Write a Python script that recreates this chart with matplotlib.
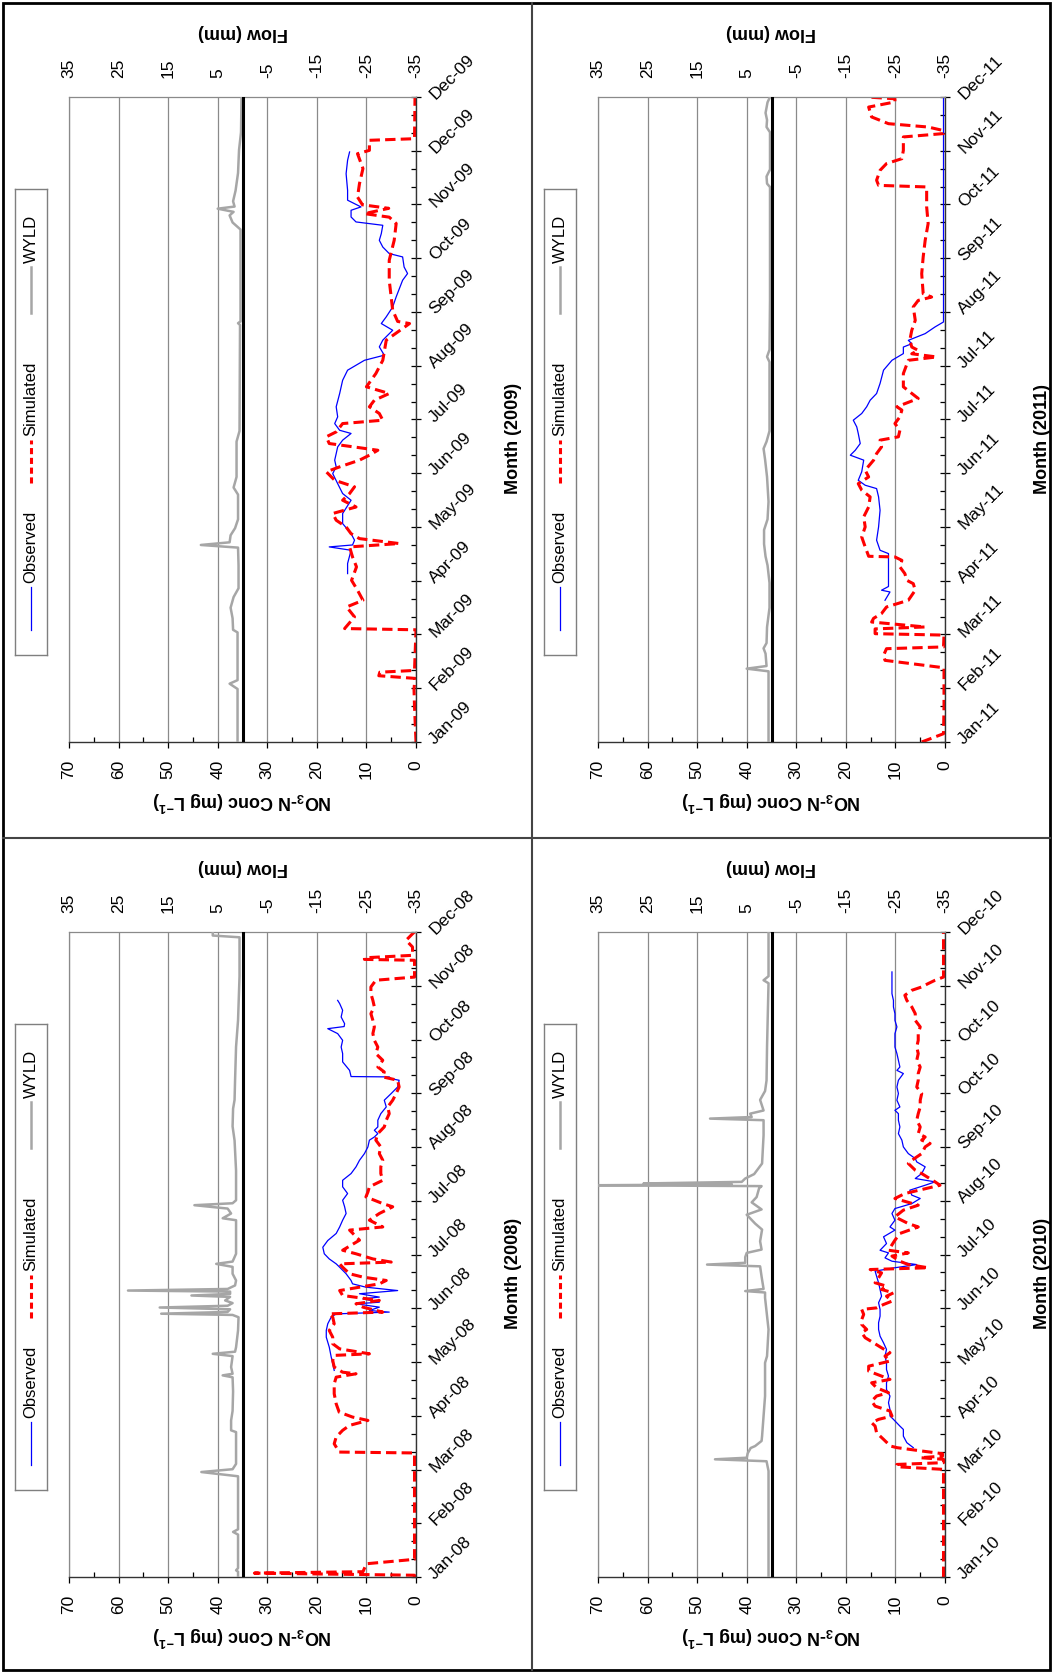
import numpy as np
import matplotlib
matplotlib.use('Agg')
import matplotlib.pyplot as plt
from matplotlib.lines import Line2D
from matplotlib.patches import Rectangle
from matplotlib.ticker import FixedLocator, MultipleLocator

plt.rcParams['font.family'] = 'Liberation Sans'
plt.rcParams['axes.unicode_minus'] = False
plt.rcParams['mathtext.fontset'] = 'custom'
plt.rcParams['mathtext.rm'] = 'Liberation Sans'
plt.rcParams['mathtext.bf'] = 'Liberation Sans:bold'

# (day of year, value) pairs; conc in mg/L, WYLD in mm
obs08 = [(116.9,16.5),(120.7,16.8),(124.4,17.1),(130.1,17.5),(135.7,18.1),(139.5,18.1),(143.3,17.8),(147.1,17.1),
         (148.9,16.1),(149.9,5.4),(150.8,9.4),(152.7,7.4),(154.6,12.1),(155.5,7.4),(157.4,10.7),(158.4,7.4),
         (160.3,11.4),(162.1,3.7),(164,10.1),(165.9,12.8),(167.8,13.1),(171.6,14.1),(175.3,15.4),(177.2,16.1),
         (180,17.5),(182.9,18.5),(186.6,18.8),(190.4,17.8),(194.4,16.1),(198.1,15.4),(201.9,14.8),(205.7,14.1),
         (209.5,14.4),(213.2,14.8),(217,13.8),(220.8,14.8),(224.5,14.8),(228.3,13.1),(232.1,12.1),(235.8,11.4),
         (239.6,10.4),(243.4,9.7),(247.2,9.4),(249,8.4),(250.9,7.7),(252.8,8.4),(254.7,7.7),(258.5,7.7),
         (262.2,7.1),(266,6.0),(269.8,6.4),(273.6,5.0),(277.3,3.7),(281.1,3.4),(282,5.0),(283,5.4),(283.2,13.1),
         (286.7,13.4),(291.5,14.8),(296.2,14.8),(299.9,15.1),(303.7,14.8),(307.5,15.8),(310.3,17.8),(311.5,14.5),
         (313.1,14.4),(316.9,15.1),(320.7,14.8),(324.5,15.4),(326.3,15.8)]
sim08 = [(0,0.3),(1.0,0.3),(2.2,32.6),(3.0,10.7),(7.5,10.0),(10.0,0.3),(70.2,0.3),(70.7,15.5),(75.4,16.5),
         (79.2,16.1),(83,14.8),(85.8,13.4),(88.6,9.7),(90.5,12.8),(93.3,15.5),(98,16.1),(103.7,16.5),(109.3,16.5),
         (113.1,16.1),(115,12.1),(115.9,14.8),(118.8,16.5),(122.5,16.8),(125.4,16.5),(126.3,9.4),(129.1,15.4),
         (132,16.8),(135.7,16.8),(139.5,17.5),(143.3,16.5),(147.1,16.8),(148.9,17.5),(149.9,6.7),(152.7,10.7),
         (154.6,12.1),(156.5,7.4),(159.3,14.8),(162.1,15.4),(164,11.4),(165.9,7.4),(167.8,6.0),(169.7,10.7),
         (171.6,13.4),(175.3,14.8),(177.2,15.4),(178.2,5.0),(180,8.7),(182.9,12.1),(184.9,14.8),(190.6,11.4),
         (196.3,13.4),(198.1,6.7),(201.9,9.4),(205.7,7.4),(209.5,4.7),(211.3,6.7),(215.1,10.1),(217.9,9.7),
         (220.8,9.4),(224.5,6.7),(228.3,7.1),(232.1,7.1),(235.8,6.7),(239.6,7.4),(243.4,7.1),(247.2,8.1),
         (250.9,7.7),(254.7,6.4),(258.5,6.0),(262.2,5.4),(266,5.7),(269.8,4.7),(273.6,4.0),(277.3,3.4),(281.1,3.7),
         (283,6.7),(285.8,6.4),(288.6,7.7),(292.4,6.7),(296.2,8.1),(299.9,7.7),(303.7,8.4),(307.5,8.7),(311.3,8.4),
         (315,8.7),(318.8,9.1),(322.6,8.4),(326.3,8.7),(330.1,9.1),(333.9,9.1),(337.7,8.1),(339.5,0.3),(349,0.3),
         (349.5,10.4),(350.4,10.4),(351.8,0.7),(356.5,0.7),(360.3,2.0),(364,0.7),(365,0.3)]
wyld08 = [(0,0.9),(3,0.9),(3.8,1.3),(5,0.9),(24,0.9),(25.5,1.9),(27,0.9),(57,0.9),(59.4,8.3),(61,2.0),(64,1.3),
          (75,1.3),(82,1.3),(83,2.3),(88.6,2.3),(94,2.0),(105,1.9),(113,2.0),(114.1,4.0),(115,2.0),(118.8,2.3),
          (125,2.0),(126.3,6.0),(127.5,1.5),(130,1.3),(139.5,0.9),(147,0.8),(148.3,2.0),(149,16.4),(150,3.0),
          (151.5,2.5),(152.5,16.7),(153.5,3.0),(155,2.0),(156.5,3.5),(158.5,2.5),(159.3,10.3),(160.2,2.5),
          (161.5,2.5),(162.1,23.1),(163,3.0),(165,1.5),(167.8,1.3),(171.6,2.0),(175.5,2.0),(177.2,5.3),(178.5,2.0),
          (182.9,1.3),(190,1.3),(201.9,1.3),(203,4.0),(205.7,2.3),(208.5,3.0),(210.4,9.7),(211.5,2.0),(213.2,1.3),
          (230,1.3),(247,1.6),(255,2.0),(265,1.9),(270,1.6),(281,1.5),(300,1.3),(315,0.9),(340,0.6),(362,0.6),
          (363,6.0),(365,6.0)]

obs09 = [(95.3,13.8),(101,13.8),(108.5,13.1),(110.4,17.5),(111.5,12.8),(114.2,12.4),(117.9,13.1),(123.6,14.8),
         (129.3,14.8),(136.8,13.1),(140.6,14.8),(146.2,15.8),(151.9,16.8),(155.7,16.1),(159.5,16.4),(163.2,16.1),
         (167,15.8),(170.8,14.8),(174.6,13.1),(176.4,15.4),(180.2,16.4),(184,15.8),(189.7,16.1),(197.2,15.4),
         (204.7,14.8),(210.4,13.8),(216,10.4),(218.9,6.4),(223.6,7.4),(227.4,6.7),(233,4.7),(236.8,7.0),
         (240.6,6.0),(246.2,4.7),(251.9,4.0),(261.3,2.7),(265.1,1.7),(268.8,2.4),(274.5,2.7),(276.4,5.4),
         (280.1,6.7),(283.9,7.4),(287.7,7.0),(292.4,6.7),(294.3,12.1),(297.1,13.1),(300.9,13.1),(302.8,11.1),
         (306.6,13.8),(312.2,13.8),(321.6,14.1),(329.2,13.8),(333.9,13.4)]
sim09 = [(0,0.0),(20,0.3),(30,0.4),(36,0.2),(37.5,7.5),(39.5,7.3),(40.5,0.3),(63.5,0.0),(64.2,14.4),(70.8,12.4),
         (76.4,14.0),(80.2,10.7),(85.9,11.8),(91.5,13.0),(99.1,12.0),(104.7,12.8),(110.4,13.4),(112.3,3.4),
         (115.1,11.4),(117.9,13.1),(121.7,14.1),(125.5,16.1),(129.3,16.8),(133.0,12.1),(136.8,14.8),(140.6,13.4),
         (144.4,12.4),(148.1,16.4),(152.9,18.1),(155.7,15.4),(159.5,11.4),(162.3,9.4),(165.1,7.7),(168.9,17.5),
         (172.7,18.1),(175.5,16.1),(180.2,14.8),(182.1,6.7),(185.9,7.4),(189.7,9.4),(193.4,8.4),(197.2,5.4),
         (201.0,10.0),(208.5,8.1),(216.0,6.7),(227.4,6.0),(236.8,1.3),(238.0,3.7),(244.3,4.7),(261.3,5.4),
         (272.6,5.4),(283.9,4.4),(293.4,4.0),(297.0,5.4),(299.0,10.4),(302.0,5.5),(304.0,10.8),(308.4,11.8),
         (316.0,11.4),(324.5,10.7),(332.9,11.8),(334.8,9.4),(340.5,9.4),(341.4,0.3),(365,0.2)]
wyld09 = [(0,1.0),(30,1.0),(33,2.6),(35,1.0),(62,1.0),(63.5,1.9),(70,2.0),(76,2.4),(82,1.8),(87,0.8),(100,0.8),
          (110,0.9),(111.5,8.4),(113,2.6),(117,2.4),(121,1.5),(126,0.9),(140,0.9),(144,1.8),(150,1.2),(170,1.2),
          (176,0.6),(236,0.5),(237,0.9),(238,0.4),(290,0.4),(294,2.0),(298,2.6),(300,1.8),(301.8,5.0),(303,1.6),
          (306,1.9),(312,1.4),(322,0.9),(335,0.7),(345,0.3),(365,0.2)]

obs10 = [(73.2,6.4),(76,7.7),(79.7,8.4),(83.5,8.4),(85.4,9.1),(89.2,10.4),(91.1,11.1),(94.8,11.1),(98.6,11.4),
         (102.4,11.1),(106.1,11.8),(109.9,11.8),(113.7,11.4),(117.4,11.8),(121.2,11.8),(125,12.1),(128.8,11.8),
         (132.5,12.4),(136.3,13.1),(140.1,13.4),(143.9,13.4),(147.6,13.1),(151.4,13.1),(155.2,13.4),(158.9,12.8),
         (162.7,13.1),(166.5,13.4),(170.2,13.8),(173.1,14.1),(175,10.1),(176.8,5.7),(178.7,10.7),(180.6,12.1),
         (183.4,11.4),(184.9,13.1),(188.7,11.8),(192.5,12.4),(196.3,10.1),(198.1,11.1),(201.9,10.1),(205.7,10.7),
         (208.5,10.1),(211.3,6.7),(214.2,5.0),(216.1,6.7),(218.9,7.1),(221.7,4.0),(223.6,2.0),(225.5,6.0),
         (228.3,4.7),(232.1,4.0),(234.9,5.7),(236.8,6.0),(239.6,7.4),(243.4,8.4),(247.2,8.7),(250.9,9.4),
         (254.7,9.1),(258.5,9.4),(262.2,9.4),(264.1,10.1),(266,9.1),(269.8,9.7),(273.6,9.4),(277.3,9.7),
         (281.1,9.4),(284.9,8.4),(286.7,9.7),(288.6,9.1),(292.4,9.4),(296.2,9.7),(299.9,10.1),(303.7,10.1),
         (307.5,10.1),(311.3,9.7),(315,10.1),(318.8,10.1),(322.6,10.4),(326.3,10.4),(330.1,10.7),(333.9,10.7),
         (337.7,10.7),(342.4,10.7)]
sim10 = [(0,0.3),(60.9,0.3),(62.4,9.7),(63.7,9.7),(64.7,0.3),(66.6,0.3),(67.5,5.0),(68.4,0.5),(69.8,0.5),
         (71.3,4.7),(73.2,9.7),(74.1,11.0),(77.9,12.4),(81.6,13.8),(85.4,14.1),(87.3,14.8),(89.2,13.4),(91.1,10.7),
         (93.9,11.1),(96.7,14.1),(99.5,14.8),(102.4,13.8),(104.3,11.4),(107.1,13.8),(109.9,14.8),(111.8,11.1),
         (113.7,12.8),(116.5,15.4),(119.3,15.4),(122.2,11.1),(125,12.1),(126.9,11.1),(129.7,12.8),(132.5,14.4),
         (135.4,16.1),(138.2,16.8),(140.1,15.8),(142.9,16.8),(145.7,16.8),(148.6,16.4),(151.4,16.8),(152.3,13.8),
         (154.2,12.4),(156.1,10.7),(158.9,11.8),(160.8,10.4),(162.7,12.8),(164.6,11.8),(166.5,14.1),(169.3,13.4),
         (172.1,12.8),(174,15.1),(175,3.4),(176.8,7.4),(178.7,9.1),(181.6,10.7),(183.4,7.4),(184.9,11.4),
         (190.6,10.1),(194.4,9.1),(198.1,5.4),(200,7.4),(203.8,10.1),(207.6,8.4),(210.4,5.4),(214.2,10.1),
         (217,8.1),(221.7,1.0),(223.6,2.0),(228.3,4.7),(230.2,6.0),(234,7.4),(235.8,6.7),(239.6,4.7),(243.4,4.0),
         (245.3,3.0),(247.2,4.7),(249,4.0),(250.9,5.4),(254.7,5.0),(258.5,5.7),(262.2,5.4),(266,5.0),(269.8,5.0),
         (273.6,4.7),(277.3,5.7),(281.1,5.4),(284.9,5.4),(288.6,5.0),(292.4,5.7),(296.2,5.4),(299.9,5.7),
         (303.7,5.4),(307.5,5.4),(311.3,5.0),(315,6.0),(318.8,6.0),(322.6,6.7),(326.3,7.7),(329.2,8.1),(332,6.7),
         (333.9,4.7),(335.8,3.4),(337.7,2.0),(339.5,0.3),(365,0.3)]
wyld10 = [(0,0.6),(60,0.6),(65.5,1.0),(66.6,11.4),(67.5,5.0),(70,4.8),(73,4.2),(74.1,3.3),(77,2.0),(79.7,1.9),
          (91.1,1.6),(102.4,1.3),(121.2,1.3),(125,0.9),(140.1,0.6),(158,1.3),(161,1.3),(161.8,5.3),(163,1.6),
          (170,2.0),(175.8,2.3),(176.8,13.0),(177.8,5.3),(181,5.3),(183.4,5.0),(185.3,2.0),(190,2.3),(196.6,1.9),
          (200,3.3),(205,5.0),(208,2.0),(212,4.0),(215,3.0),(220,2.5),(221.2,2.0),(221.7,35.0),(222.2,8.0),
          (222.7,25.8),(223.6,6.0),(225.5,5.3),(228,3.5),(234,1.9),(250,1.6),(258.5,1.6),(259.4,12.4),(260.3,4.0),
          (262.2,4.3),(264,1.6),(270,2.3),(275,1.3),(281,1.0),(300,0.9),(336,0.6),(337.7,1.6),(340,0.6),(365,0.6)]

obs11 = [(80.2,12.1),(84.9,11.1),(85.9,12.8),(88,11.4),(95.3,11.4),(106.6,11.4),(108.5,13.1),(114.2,13.8),
         (121.7,13.4),(131.1,13.1),(138.7,13.4),(143.4,13.8),(145.3,16.1),(148.1,17.5),(152.9,16.8),(159.5,16.4),
         (162.3,19.1),(165.1,18.1),(168.9,17.1),(174.6,17.5),(178.3,17.8),(182.1,18.5),(185.9,16.8),(189.7,15.8),
         (193.4,15.1),(197.2,13.8),(202.9,13.1),(210.4,12.4),(216,10.7),(219.8,8.4),(223.5,8.4),(225.4,6.7),
         (227.3,7.4),(231.1,4.0),(234.9,2.0),(237.7,0.3),(365,0.3)]
sim11 = [(0,4.7),(4.7,0.3),(20,0.2),(42,0.2),(46.2,12.1),(49,12.4),(52.8,11.8),(53.8,0.3),(60.5,0.2),(61.3,14.1),
         (64,14.1),(65.1,4.0),(67.9,14.8),(70,14.4),(72.7,12.8),(76.4,11.8),(80.2,7.4),(85.9,6.0),(89.6,6.4),
         (91.5,7.7),(95.3,8.1),(99.1,9.1),(102.8,8.7),(104.7,10.1),(105.1,15.4),(110.4,16.1),(116,16.8),
         (121.7,16.1),(127.4,16.4),(133,15.4),(138.7,15.1),(142.5,16.8),(146.2,17.5),(150,15.4),(153.8,16.1),
         (159.5,14.4),(163.2,13.8),(167,12.8),(170.8,13.1),(172.7,9.4),(176.4,9.1),(180.2,10.1),(184,9.1),
         (187.8,8.7),(189.7,9.7),(194.4,5.4),(201,8.4),(208.5,8.4),(216,7.4),(217.9,1.7),(219.7,6.7),(221.6,5.4),
         (223.5,6.7),(227.3,7.1),(233,6.7),(238.6,6.0),(246.2,6.4),(249.9,5.4),(251.8,2.7),(253.7,4.4),(265,4.7),
         (274.5,4.4),(283.9,4.0),(293.4,3.4),(302.8,3.7),(314.1,3.7),(315,13.4),(317.9,13.8),(323.5,13.1),
         (327.3,11.8),(330.1,8.7),(334.8,8.4),(342.4,8.4),(344.3,0.3),(346,0.3),(348,3.4),(349.9,11.4),
         (353.7,14.8),(359.3,15.4),(362.2,10.1),(364,10.1),(365,15.8)]
wyld11 = [(0,0.6),(40,0.6),(41.5,5.0),(43,1.0),(50,1.2),(53,1.6),(56,1.0),(65,0.9),(76,0.4),(90,0.4),(100,0.8),
          (105,1.2),(112,1.5),(120,1.5),(126,0.8),(136,0.6),(150,0.9),(160,1.3),(166,1.6),(170,1.0),(176,0.4),
          (215,0.4),(218,0.9),(222,0.4),(250,0.3),(314,0.3),(316,0.9),(320,1.0),(324,0.3),(345,0.3),(348,1.0),
          (352,0.9),(356,1.2),(362,0.8),(365,0.3)]

months = ['Jan', 'Feb', 'Mar', 'Apr', 'May', 'Jun', 'Jul', 'Aug', 'Sep', 'Oct', 'Nov', 'Dec']
ticks08 = [m + '-08' for m in months[:7] + ['Jul'] + months[7:]]
ticks09 = [m + '-09' for m in months + ['Dec']]
ticks10 = [m + '-10' for m in months[:10] + ['Oct'] + months[10:]]
ticks11 = [m + '-11' for m in months[:7] + ['Jul'] + months[7:]]

conc_ticks = [70, 60, 50, 40, 30, 20, 10, 0]
flow_ticks = [35, 25, 15, 5, -5, -15, -25, -35]

W, H = 1053, 1673
fig = plt.figure(figsize=(W / 100, H / 100), dpi=100)


def box(x0, y0, w, h):
    return [x0 / W, 1 - (y0 + h) / H, w / W, h / H]


def panel(x0, y0, tick_lbls, title, obs, sim, wyld):
    pw, ph = 347, 645
    ax = fig.add_axes(box(x0, y0, pw, ph))
    ax.set_xlim(70, 0)
    ax.set_ylim(0, 365)
    ax.set_axisbelow(True)
    ax.xaxis.set_major_locator(FixedLocator(conc_ticks))
    ax.xaxis.set_minor_locator(MultipleLocator(5))
    ax.grid(axis='x', which='major', color='#8a8a8a', lw=0.9)
    ax.tick_params(axis='x', which='major', direction='out', length=4, width=0.9,
                   labelrotation=90, pad=9, labelsize=12.5)
    ax.tick_params(axis='x', which='minor', direction='in', length=3.5, width=0.9)

    ax.yaxis.tick_right()
    ax.yaxis.set_major_locator(FixedLocator(np.linspace(0, 365, 13)))
    ax.yaxis.set_minor_locator(FixedLocator(np.linspace(0, 365, 37)))
    ax.set_yticklabels(tick_lbls, rotation=45, ha='left', va='center',
                       rotation_mode='anchor', fontsize=12.5)
    ax.tick_params(axis='y', which='major', direction='inout', length=7, width=0.9, pad=8)
    ax.tick_params(axis='y', which='minor', direction='in', length=3.5, width=0.9)

    for side in ['left', 'top']:
        ax.spines[side].set_color('#8a8a8a')
        ax.spines[side].set_linewidth(0.9)
    for side in ['right', 'bottom']:
        ax.spines[side].set_color('#333333')
        ax.spines[side].set_linewidth(1.0)

    d, v = np.array(obs).T
    ax.plot(v, d, color='#0000ff', lw=0.9)
    d, v = np.array(sim).T
    ax.plot(v, d, color='#ff0000', lw=2.2, ls='--', dashes=(3.4, 1.7))

    ax2 = ax.twiny()
    ax2.set_xlim(35, -35)
    ax2.set_xticks(flow_ticks)
    ax2.set_xticklabels([str(t) for t in flow_ticks])
    ax2.tick_params(axis='x', length=0, pad=14, labelrotation=90, labelsize=12.5)
    for s in ax2.spines.values():
        s.set_visible(False)
    d, v = np.array(wyld).T
    ax2.plot(v, d, color='#a6a6a6', lw=1.8)
    ax2.axvline(0, color='black', lw=2.2)

    ax.text(0.5, -(801 - 742) / ph, r'NO$_\mathbf{3}$-N Conc (mg L$^\mathbf{-1}$)',
            transform=ax.transAxes, rotation=180, ha='center', va='center',
            fontsize=13, fontweight='bold')
    ax.text(0.5, 1 + (97 - 33) / ph, 'Flow (mm)', transform=ax.transAxes,
            rotation=180, ha='center', va='center', fontsize=13, fontweight='bold')
    ax.text(1.28, 0.47, title, transform=ax.transAxes, rotation=90,
            ha='center', va='center', fontsize=13, fontweight='bold')

    # legend box, entries read bottom to top
    lax = fig.add_axes(box(x0 - 54, y0 + 92, 32, 466))
    lax.set_xlim(0, 1)
    lax.set_ylim(0, 466)
    lax.set_xticks([])
    lax.set_yticks([])
    for s in lax.spines.values():
        s.set_color('#7f7f7f')
        s.set_linewidth(1.0)
    lax.plot([0.5, 0.5], [25, 68], color='#0000ff', lw=0.9)
    lax.text(0.5, 72, 'Observed', rotation=90, ha='center', va='bottom', fontsize=12)
    lax.plot([0.5, 0.5], [172, 215], color='#ff0000', lw=2.2, ls='--', dashes=(2.0, 1.2))
    lax.text(0.5, 219, 'Simulated', rotation=90, ha='center', va='bottom', fontsize=12)
    lax.plot([0.5, 0.5], [342, 388], color='#a6a6a6', lw=1.8)
    lax.text(0.5, 392, 'WYLD', rotation=90, ha='center', va='bottom', fontsize=12)


panel(69, 97, ticks09, 'Month (2009)', obs09, sim09, wyld09)
panel(598, 97, ticks11, 'Month (2011)', obs11, sim11, wyld11)
panel(69, 932, ticks08, 'Month (2008)', obs08, sim08, wyld08)
panel(598, 932, ticks10, 'Month (2010)', obs10, sim10, wyld10)

# cell frame and dividers
fig.add_artist(Rectangle((3 / W, 3 / H), (W - 6) / W, (H - 6) / H, transform=fig.transFigure,
                         fill=False, ec='black', lw=2))
fig.add_artist(Line2D([532 / W, 532 / W], [3 / H, 1 - 3 / H], transform=fig.transFigure,
                      color='#444444', lw=1.5))
fig.add_artist(Line2D([3 / W, 1 - 3 / W], [1 - 838 / H, 1 - 838 / H], transform=fig.transFigure,
                      color='#444444', lw=1.5))

fig.savefig('out.png', dpi=100)
